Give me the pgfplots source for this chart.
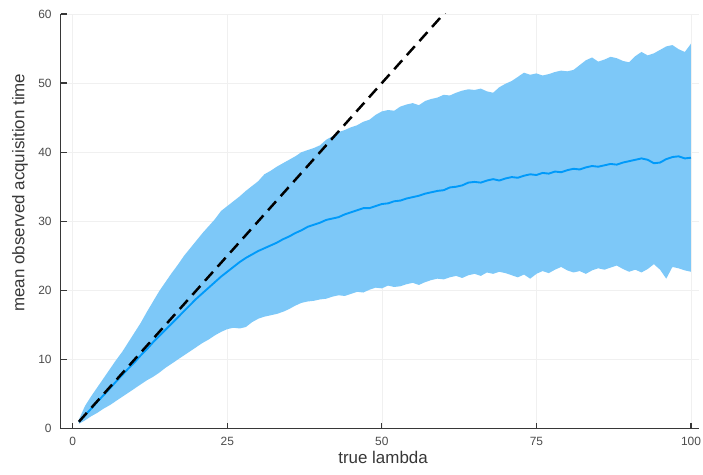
\documentclass[border=0pt]{standalone}
\usepackage{fontspec}
\setmainfont{Liberation Sans}
\usepackage{pgfplots}
\usepackage{pgfplotstable}
\pgfplotsset{compat=1.18}
\usepgfplotslibrary{fillbetween}
\definecolor{juliablue}{RGB}{0,154,250}
\definecolor{bandblue}{RGB}{125,200,248}
\definecolor{axisgray}{RGB}{55,55,55}
\pgfplotstableread{
x lo mean hi
1 0.7 1.0 1.3
2 1.2 1.95 3.3
3 1.8 2.9 4.7
4 2.3 3.9 6.0
5 2.9 4.85 7.3
6 3.4 5.8 8.6
7 4.0 6.8 9.9
8 4.6 7.75 11.1
9 5.2 8.7 12.5
10 5.8 9.6 13.9
11 6.4 10.6 15.3
12 7.0 11.5 16.9
13 7.5 12.5 18.4
14 8.1 13.4 19.9
15 8.8 14.3 21.2
16 9.4 15.2 22.5
17 10.0 16.1 23.7
18 10.6 17.0 25.0
19 11.2 17.9 26.1
20 11.8 18.8 27.2
21 12.4 19.6 28.3
22 12.9 20.4 29.3
23 13.5 21.2 30.3
24 14.0 22.0 31.5
25 14.4 22.7 32.2
26 14.6 23.4 32.9
27 14.5 24.1 33.6
28 14.7 24.7 34.4
29 15.4 25.2 35.1
30 15.9 25.7 35.8
31 16.2 26.1 36.8
32 16.4 26.5 37.3
33 16.6 26.9 37.9
34 16.9 27.4 38.4
35 17.3 27.8 38.9
36 17.8 28.3 39.4
37 18.2 28.7 40.0
38 18.4 29.2 40.3
39 18.5 29.5 40.6
40 18.7 29.8 41.0
41 18.8 30.2 41.8
42 19.1 30.4 42.3
43 19.3 30.6 42.9
44 19.2 31.0 43.2
45 19.5 31.3 43.6
46 19.8 31.6 43.9
47 19.7 31.9 44.4
48 20.1 31.9 44.7
49 20.4 32.2 45.4
50 20.3 32.5 45.9
51 20.7 32.6 46.1
52 20.5 32.9 46.0
53 20.6 33.0 46.6
54 20.9 33.3 46.9
55 21.1 33.5 47.1
56 20.8 33.7 46.8
57 21.2 34.0 47.4
58 21.5 34.2 47.7
59 21.7 34.4 47.9
60 21.6 34.5 48.3
61 21.9 34.9 48.2
62 22.1 35.0 48.6
63 21.8 35.2 48.9
64 22.2 35.6 49.1
65 22.4 35.7 49.0
66 22.1 35.6 49.2
67 22.6 35.9 48.8
68 22.4 36.1 48.6
69 22.7 35.9 49.4
70 22.5 36.2 49.9
71 22.2 36.4 50.3
72 21.9 36.3 50.9
73 22.3 36.6 51.5
74 21.7 36.8 51.2
75 22.4 36.7 51.4
76 22.8 37.0 51.1
77 22.5 36.9 51.3
78 23.0 37.2 51.6
79 23.4 37.1 51.8
80 22.9 37.4 51.7
81 22.6 37.6 51.9
82 22.8 37.5 52.6
83 22.4 37.8 53.3
84 22.9 38.0 53.7
85 23.2 37.9 53.1
86 23.0 38.1 53.4
87 23.3 38.3 53.8
88 23.6 38.2 53.6
89 23.1 38.5 53.2
90 22.7 38.7 53.0
91 23.0 38.9 53.9
92 22.6 39.1 54.5
93 23.1 38.9 54.0
94 23.8 38.4 54.3
95 23.0 38.5 54.8
96 21.7 39.0 55.3
97 23.4 39.3 55.5
98 23.2 39.4 54.9
99 22.9 39.1 54.5
100 22.7 39.2 55.7
}\data
\begin{document}
\begin{tikzpicture}
\begin{axis}[
  at={(0,0)}, anchor=south west,
  scale only axis, width=641pt, height=416.5pt,
  xmin=-1.93, xmax=101.3, ymin=0, ymax=60,
  axis lines=left,
  axis line style={-, axisgray, line width=1.2pt},
  xtick={0,25,50,75,100}, ytick={0,10,20,30,40,50,60},
  tick align=inside, major tick length=6pt,
  tick style={axisgray, line width=1.2pt},
  grid=major, grid style={black!6, line width=0.6pt},
  /pgf/number format/assume math mode=true,
  ticklabel style={font=\fontsize{12}{13}\selectfont, text=black!70},
  xticklabel style={inner sep=0pt, yshift=-8.5pt},
  yticklabel style={inner sep=0pt, xshift=-9pt},
  xlabel={true lambda}, ylabel={mean observed acquisition time},
  label style={font=\fontsize{17}{18}\selectfont, text=axisgray},
  xlabel style={at={(axis description cs:0.505,0)}, anchor=base, yshift=-35pt},
  ylabel style={at={(axis description cs:-0.064,0.569)}, anchor=center},
]
\addplot[name path=U, draw=none, forget plot] table[x=x, y=hi] {\data};
\addplot[name path=L, draw=none, forget plot] table[x=x, y=lo] {\data};
\addplot[bandblue, draw=none] fill between[of=U and L];
\addplot[juliablue, line width=1.9pt, line join=round] table[x=x, y=mean] {\data};
\addplot[black, line width=2.5pt, dash pattern=on 12pt off 7pt] coordinates {(1,1) (100,100)};
\end{axis}
\pgfresetboundingbox
\useasboundingbox (-61pt,-46.5pt) rectangle (645pt,430.5pt);
\end{tikzpicture}
\end{document}
